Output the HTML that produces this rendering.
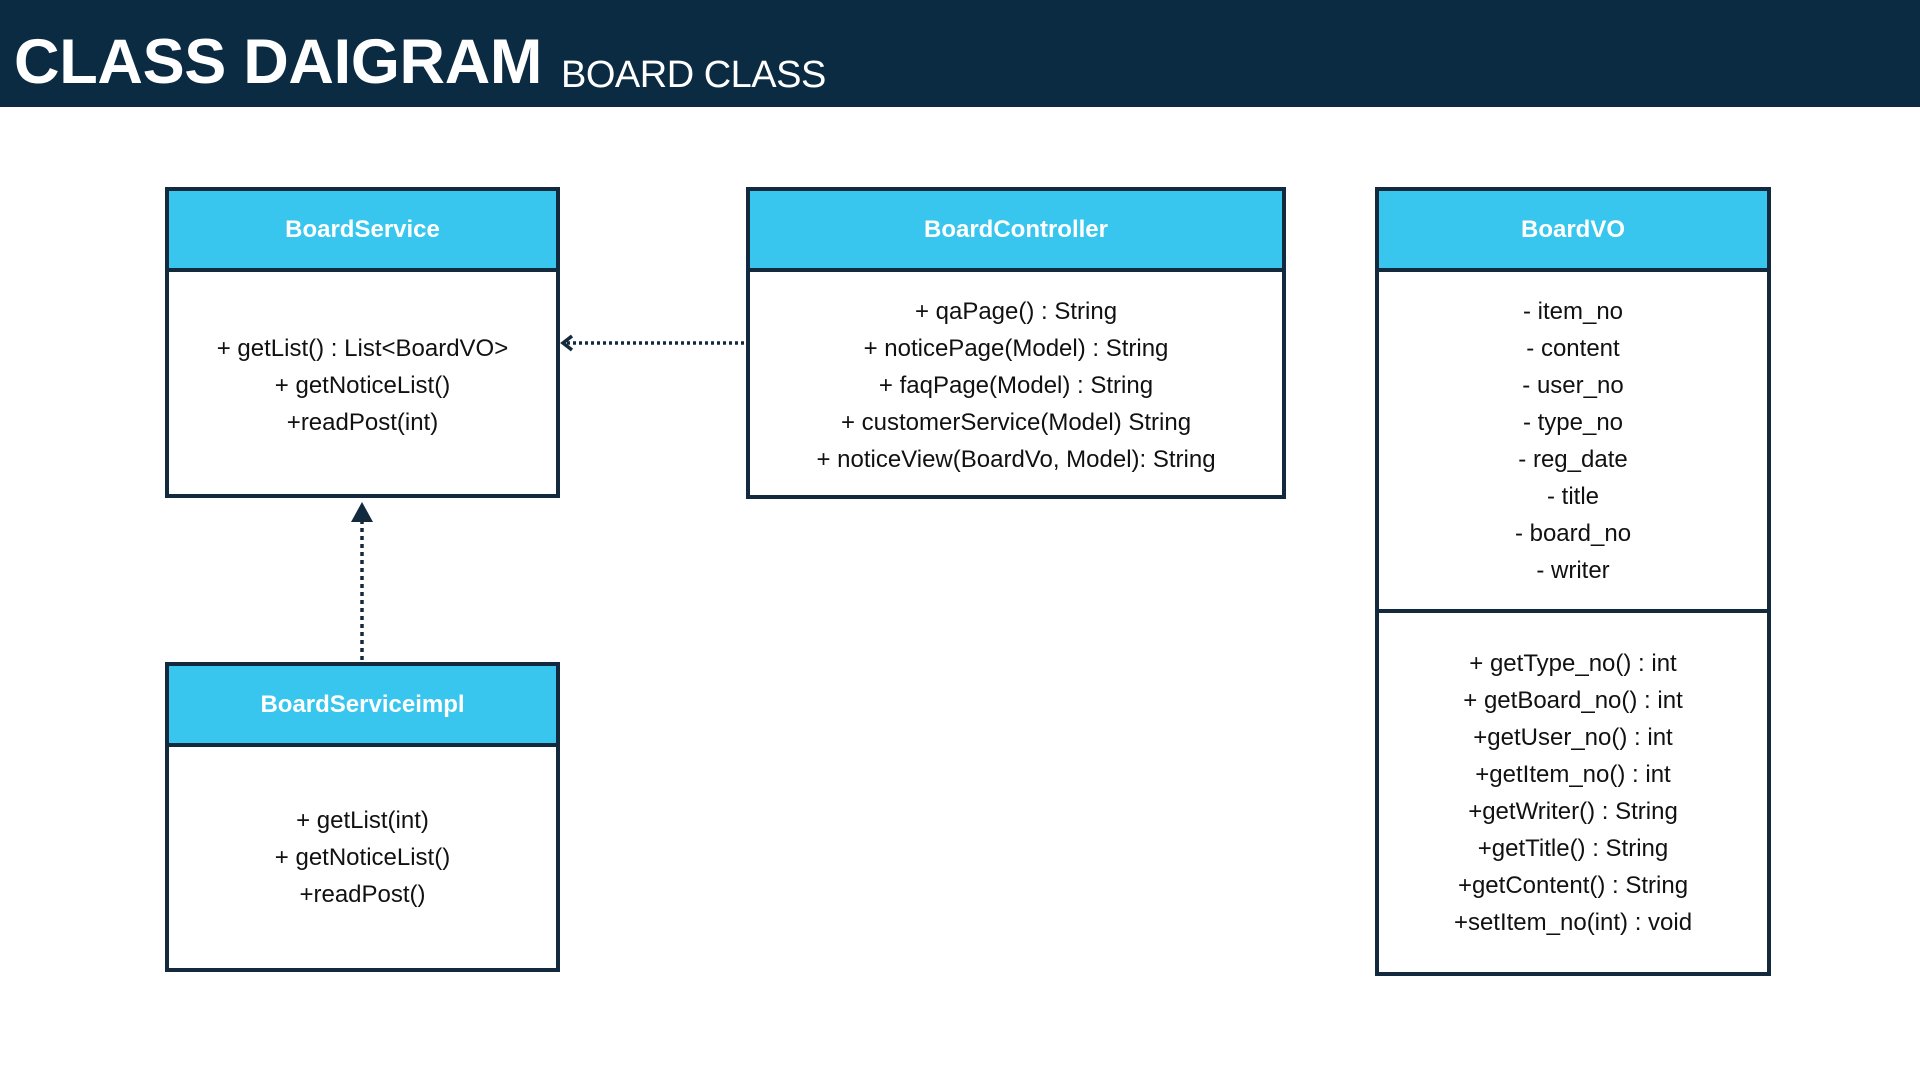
<!DOCTYPE html>
<html><head><meta charset="utf-8"><style>
html,body{margin:0;padding:0;width:1920px;height:1080px;background:#fff;overflow:hidden;font-family:"Liberation Sans",sans-serif;}
.hdr{position:absolute;left:0;top:0;width:1920px;height:107px;background:#0b2b42;}
.t1{position:absolute;left:14px;top:26px;font-size:63px;font-weight:bold;color:#fff;letter-spacing:-0.3px;white-space:nowrap;}
.t2{position:absolute;left:561px;top:54px;font-size:38px;color:#fff;white-space:nowrap;letter-spacing:-0.5px}
.box{position:absolute;border:4px solid #13293d;box-sizing:border-box;background:#fff;}
.head{position:absolute;left:0;right:0;top:0;background:#38c6ee;border-bottom:4px solid #13293d;color:#fff;font-weight:bold;font-size:24px;display:flex;align-items:center;justify-content:center;}
.sec{position:absolute;left:0;right:0;text-align:center;font-size:24px;line-height:37px;color:#111;white-space:nowrap;}
.div{position:absolute;left:0;right:0;height:4px;background:#13293d;}
</style></head><body>
<div class="hdr"></div>
<div class="t1">CLASS DAIGRAM</div>
<div class="t2">BOARD CLASS</div>

<div class="box" style="left:165px;top:187px;width:395px;height:311px;">
  <div class="head" style="height:77px;">BoardService</div>
  <div class="sec" style="top:139px;">+ getList() : List&lt;BoardVO&gt;<br>+ getNoticeList()<br>+readPost(int)</div>
</div>

<div class="box" style="left:746px;top:187px;width:540px;height:312px;">
  <div class="head" style="height:77px;">BoardController</div>
  <div class="sec" style="top:102px;">+ qaPage() : String<br>+ noticePage(Model) : String<br>+ faqPage(Model) : String<br>+ customerService(Model) String<br>+ noticeView(BoardVo, Model): String</div>
</div>

<div class="box" style="left:1375px;top:187px;width:396px;height:789px;">
  <div class="head" style="height:77px;">BoardVO</div>
  <div class="sec" style="top:102px;">- item_no<br>- content<br>- user_no<br>- type_no<br>- reg_date<br>- title<br>- board_no<br>- writer</div>
  <div class="div" style="top:418px;"></div>
  <div class="sec" style="top:454px;">+ getType_no() : int<br>+ getBoard_no() : int<br>+getUser_no() : int<br>+getItem_no() : int<br>+getWriter() : String<br>+getTitle() : String<br>+getContent() : String<br>+setItem_no(int) : void</div>
</div>

<div class="box" style="left:165px;top:662px;width:395px;height:310px;">
  <div class="head" style="height:77px;">BoardServiceimpl</div>
  <div class="sec" style="top:136px;">+ getList(int)<br>+ getNoticeList()<br>+readPost()</div>
</div>

<svg width="1920" height="1080" style="position:absolute;left:0;top:0;pointer-events:none">
  <line x1="744" y1="343" x2="566" y2="343" stroke="#13293d" stroke-width="3.5" stroke-dasharray="3,3"/>
  <polyline points="572,336 563,343 572,350" fill="none" stroke="#13293d" stroke-width="3.5"/>
  <line x1="362" y1="660" x2="362" y2="520" stroke="#13293d" stroke-width="3.5" stroke-dasharray="4,4"/>
  <polygon points="362,502 351,522 373,522" fill="#13293d"/>
</svg>
</body></html>
